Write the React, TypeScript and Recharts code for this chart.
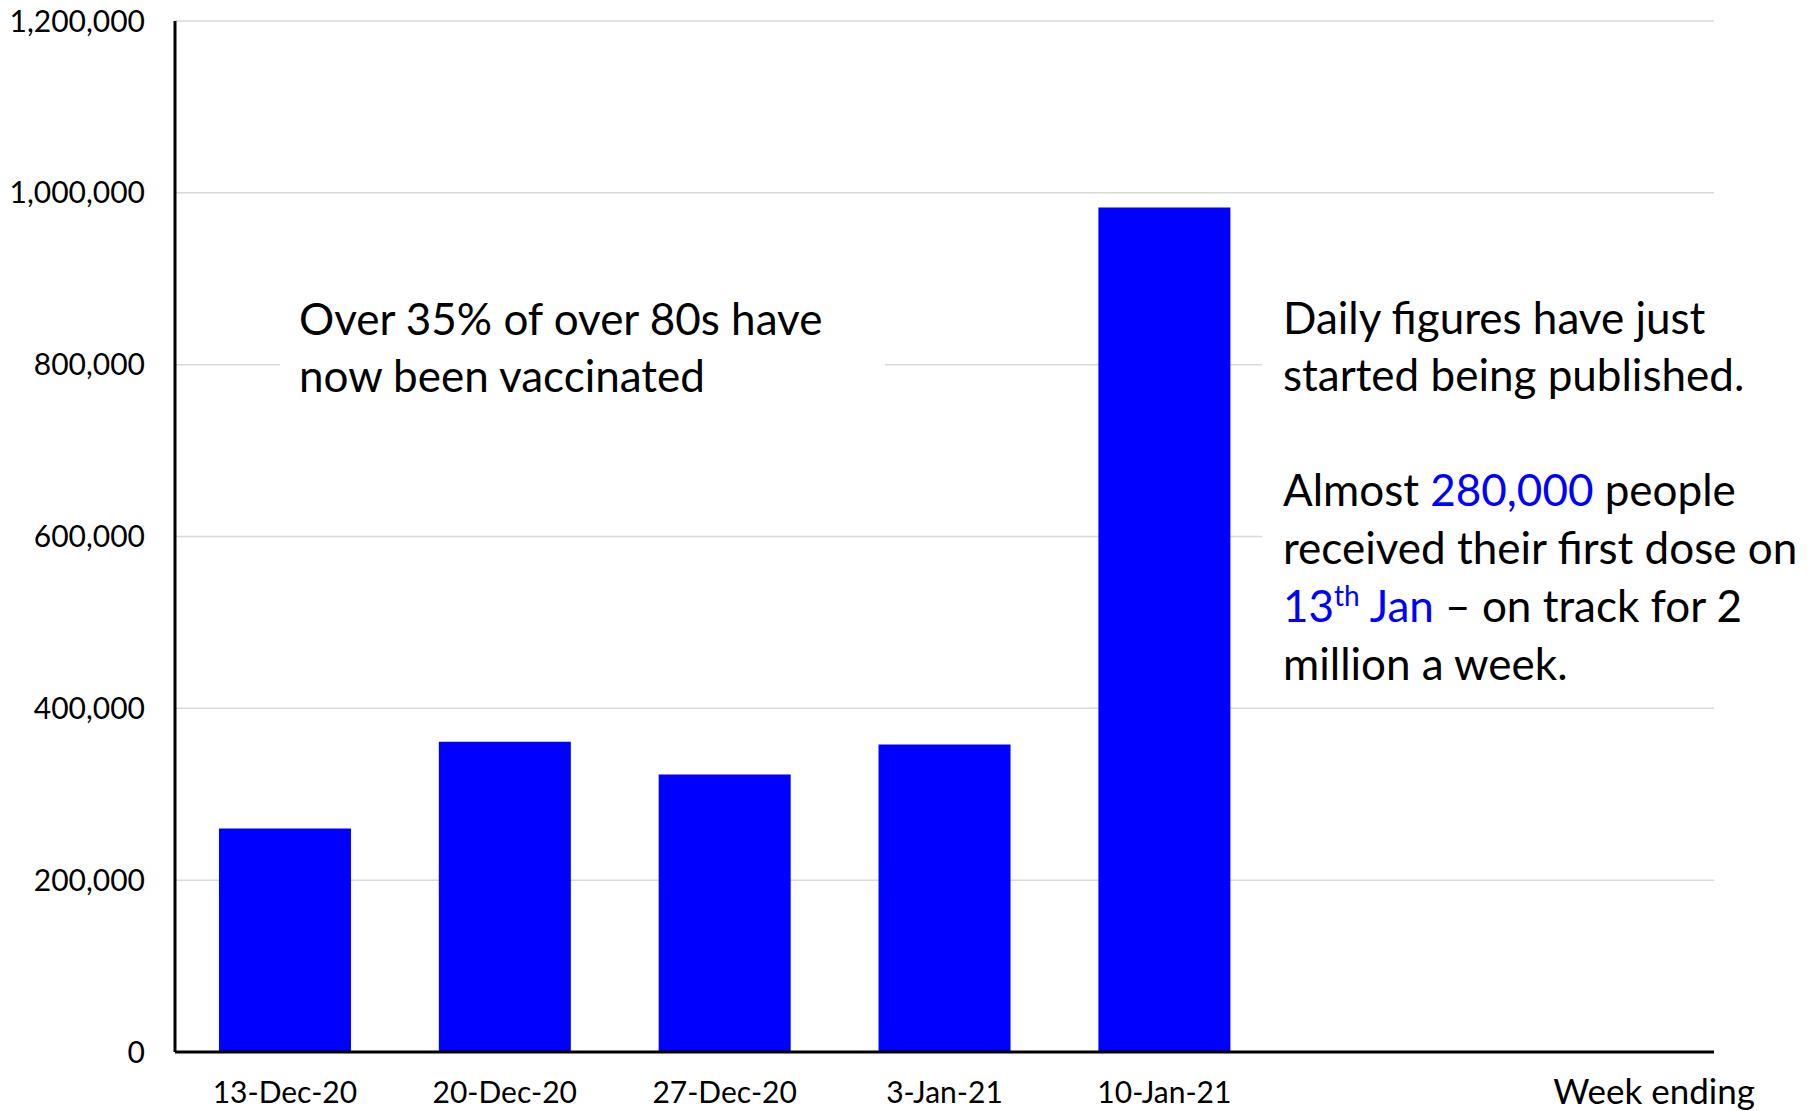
import { BarChart, Bar, XAxis, YAxis, CartesianGrid, Customized } from 'recharts';

const weeks = ['13-Dec-20', '20-Dec-20', '27-Dec-20', '3-Jan-21', '10-Jan-21', '', ' '];
const firstDoses = [260000, 361000, 323000, 358000, 983000, null, null];
const yTicks = [0, 200000, 400000, 600000, 800000, 1000000, 1200000];

const data = weeks.map((week, i) => ({ week, doses: firstDoses[i] }));

const FONT = 'Lato, "Open Sans", sans-serif';
const BLUE = '#0000FF';

function Notes() {
    return (
        <g fontFamily={FONT} fontSize={44} fill="#000">
            <rect x={280} y={290} width={605} height={120} fill="#fff" />
            <text x={299} y={335}>Over 35% of over 80s have</text>
            <text x={299} y={392}>now been vaccinated</text>

            <rect x={1262} y={240} width={558} height={455} fill="#fff" />
            <text x={1283} y={334}>Daily figures have just</text>
            <text x={1283} y={391}>started being published.</text>
            <text x={1283} y={506}>
                Almost <tspan fill={BLUE}>280,000</tspan> people
            </text>
            <text x={1283} y={564}>received their first dose on</text>
            <text x={1283} y={622}>
                <tspan fill={BLUE}>13</tspan>
                <tspan fill={BLUE} fontSize={28} dy={-16}>th</tspan>
                <tspan fill={BLUE} dy={16}> Jan</tspan> – on track for 2
            </text>
            <text x={1283} y={680}>million a week.</text>
        </g>
    );
}

export default function App() {
    return (
        <div style={{ position: 'absolute', left: 0, top: 0, background: '#fff' }}>
            <BarChart
                width={1820}
                height={1111}
                data={data}
                margin={{ top: 21, right: 106, left: 0, bottom: 0 }}
                barCategoryGap="20%"
            >
                <CartesianGrid vertical={false} stroke="#d9d9d9" strokeWidth={1.5} />
                <XAxis
                    dataKey="week"
                    height={59}
                    axisLine={{ stroke: '#000', strokeWidth: 3 }}
                    tickLine={false}
                    tickSize={0}
                    tickMargin={30}
                    interval={0}
                    tick={{ fill: '#000', fontSize: 30, fontFamily: FONT }}
                    label={{ value: 'Week ending', position: 'insideBottomRight', offset: 7, dx: 48, fill: '#000', fontSize: 35, fontFamily: FONT }}
                />
                <YAxis
                    width={175}
                    domain={[0, 1200000]}
                    ticks={yTicks}
                    interval={0}
                    axisLine={{ stroke: '#000', strokeWidth: 3 }}
                    tickLine={false}
                    tickSize={0}
                    tickMargin={30}
                    tick={{ fill: '#000', fontSize: 30, fontFamily: FONT }}
                    tickFormatter={(v: number) => v.toLocaleString('en-GB')}
                />
                <Bar dataKey="doses" fill={BLUE} isAnimationActive={false} />
                <Customized component={Notes} />
            </BarChart>
        </div>
    );
}
